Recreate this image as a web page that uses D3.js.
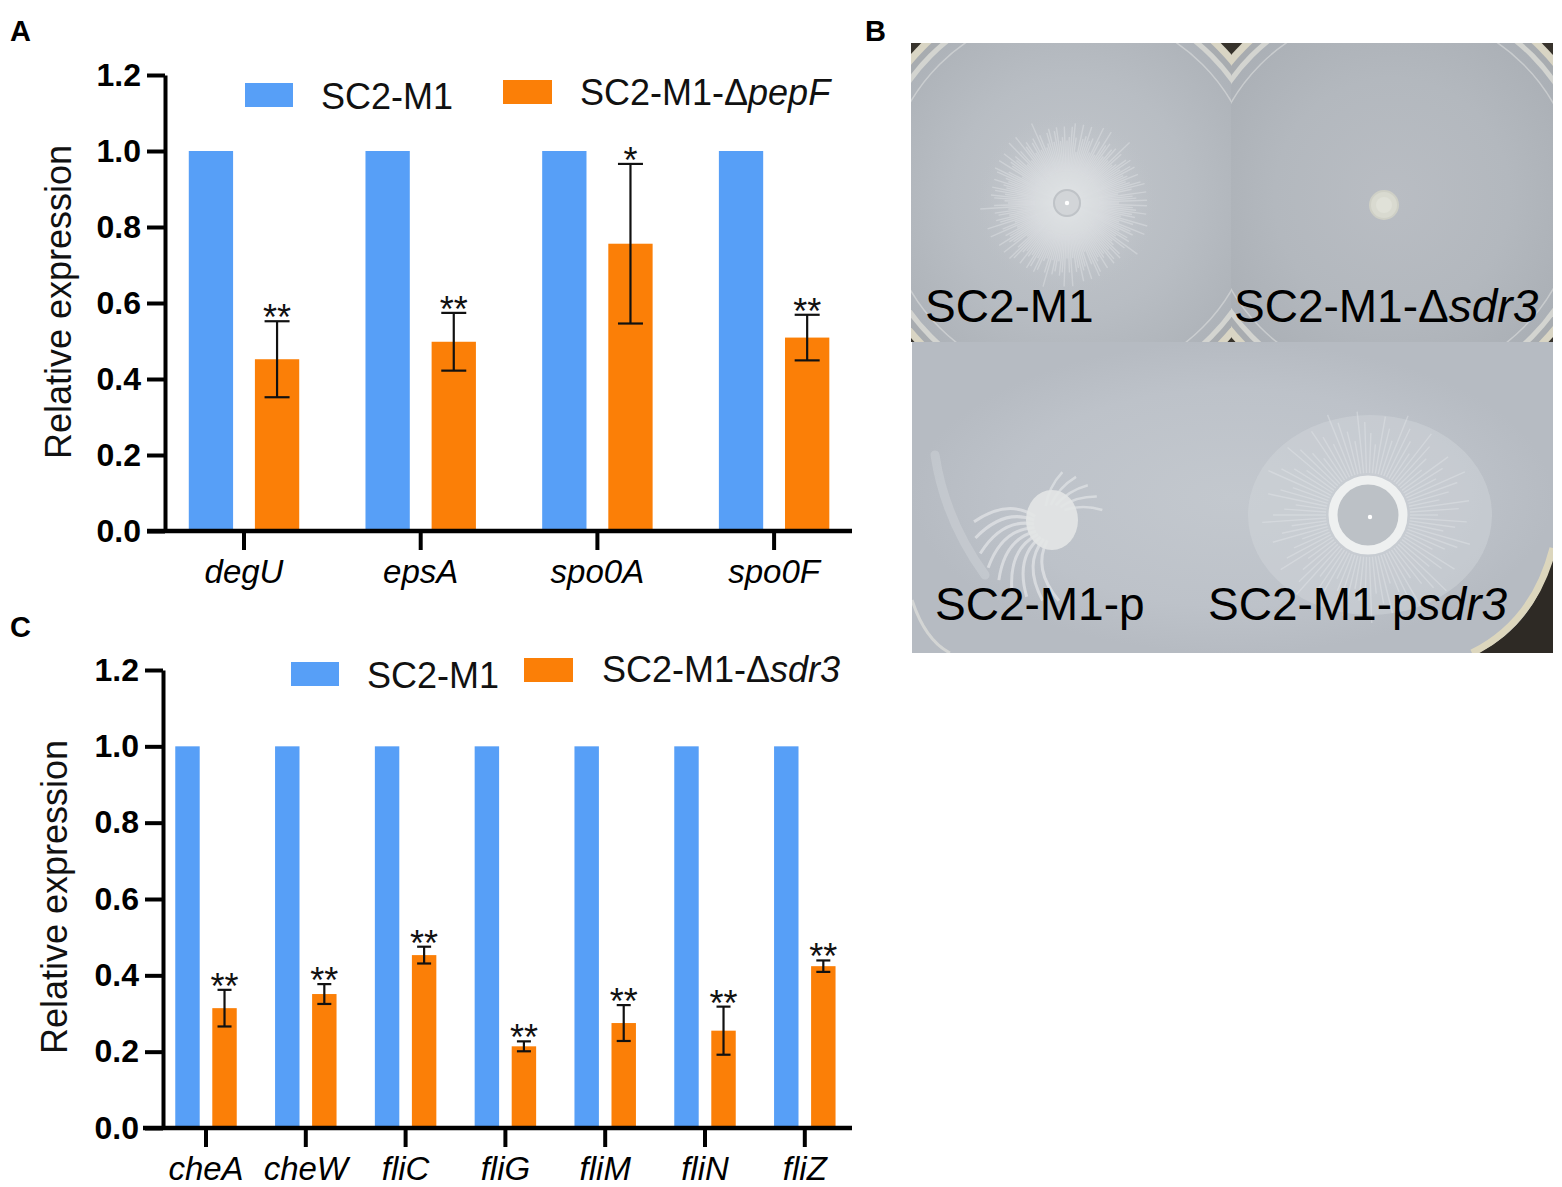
<!DOCTYPE html>
<html><head><meta charset="utf-8">
<script src="https://cdn.jsdelivr.net/npm/d3@7"></script>
<style>
body{margin:0;background:#fff}
svg{display:block}
text{font-family:"Liberation Sans",Arial,Helvetica,sans-serif}
</style>
</head><body>
<svg id="fig" width="1562" height="1187"></svg>
<script>
// ---------- DATA ----------
const genesA = ["degU", "epsA", "spo0A", "spo0F"];
const wtA = [1, 1, 1, 1];
const mutA = [0.452, 0.498, 0.756, 0.509];
const errA = [0.100, 0.076, 0.210, 0.060];
const sigA = ["**", "**", "*", "**"];

const genesC = ["cheA", "cheW", "fliC", "fliG", "fliM", "fliN", "fliZ"];
const wtC = [1, 1, 1, 1, 1, 1, 1];
const mutC = [0.314, 0.351, 0.453, 0.214, 0.275, 0.255, 0.424];
const errC = [0.048, 0.026, 0.022, 0.013, 0.047, 0.063, 0.015];
const sigC = ["**", "**", "**", "**", "**", "**", "**"];

const yTicks = [0, 0.2, 0.4, 0.6, 0.8, 1.0, 1.2];
const seriesKeys = ["wt", "mut"];

const BLUE = "#579FF7", ORANGE = "#FB7F07";
const svg = d3.select("#fig");
svg.append("rect").attr("width", 1562).attr("height", 1187).attr("fill", "#fff");
const defs = svg.append("defs");

// ---------- BAR PANEL ----------
function barPanel(o) {
  const g = svg.append("g");
  const y = d3.scaleLinear().domain([0, 1.2]).range([o.y0, o.y1]);
  const x = d3.scaleBand().domain(o.genes).range(o.xRange)
    .paddingInner(o.pad).paddingOuter(o.pad / 2);
  const xi = d3.scaleBand().domain(seriesKeys).range([0, x.bandwidth()]).paddingInner(o.innerPad);

  const rows = o.genes.map((gname, i) => ({gene: gname, wt: o.wt[i], mut: o.mut[i], err: o.err[i], sig: o.sig[i]}));

  g.selectAll(".bw").data(rows).join("rect")
    .attr("x", d => x(d.gene) + xi("wt")).attr("width", xi.bandwidth())
    .attr("y", d => y(d.wt)).attr("height", d => y(0) - y(d.wt)).attr("fill", BLUE);
  g.selectAll(".bm").data(rows).join("rect")
    .attr("x", d => x(d.gene) + xi("mut")).attr("width", xi.bandwidth())
    .attr("y", d => y(d.mut)).attr("height", d => y(0) - y(d.mut)).attr("fill", ORANGE);

  const cx = d => x(d.gene) + xi("mut") + xi.bandwidth() / 2;
  const eb = g.selectAll(".eb").data(rows).join("g").attr("stroke", "#111").attr("stroke-width", 2.2);
  eb.append("line").attr("x1", cx).attr("x2", cx).attr("y1", d => y(d.mut + d.err)).attr("y2", d => y(d.mut - d.err));
  eb.append("line").attr("x1", d => cx(d) - o.capW / 2).attr("x2", d => cx(d) + o.capW / 2)
    .attr("y1", d => y(d.mut + d.err)).attr("y2", d => y(d.mut + d.err));
  eb.append("line").attr("x1", d => cx(d) - o.capW / 2).attr("x2", d => cx(d) + o.capW / 2)
    .attr("y1", d => y(d.mut - d.err)).attr("y2", d => y(d.mut - d.err));

  g.selectAll(".sg").data(rows).join("text")
    .attr("x", cx).attr("y", d => y(d.mut + d.err) + 9)
    .attr("text-anchor", "middle").attr("font-size", 36).attr("fill", "#111")
    .text(d => d.sig);

  const ya = g.append("g").attr("transform", `translate(${o.axisX},0)`)
    .call(d3.axisLeft(y).tickValues(yTicks).tickSize(18).tickSizeOuter(0).tickPadding(6).tickFormat(d3.format(".1f")));
  ya.select(".domain").attr("stroke", "#000").attr("stroke-width", 4);
  ya.selectAll(".tick line").attr("stroke", "#000").attr("stroke-width", 4);
  ya.selectAll(".tick text").attr("font-size", 32).attr("font-weight", "bold").attr("fill", "#000")
    .attr("font-family", "'Liberation Sans',Arial,sans-serif");

  const xa = g.append("g").attr("transform", `translate(0,${o.y0})`)
    .call(d3.axisBottom(x).tickSize(19).tickSizeOuter(0));
  xa.select(".domain").attr("d", `M${o.xLine[0]},0H${o.xLine[1]}`).attr("stroke", "#000").attr("stroke-width", 4.5);
  xa.selectAll(".tick line").attr("stroke", "#000").attr("stroke-width", 4);
  xa.selectAll(".tick text").attr("dy", null).attr("y", 52).attr("font-size", 33)
    .attr("font-style", "italic").attr("fill", "#000").attr("font-family", "'Liberation Sans',Arial,sans-serif");

  g.append("text").attr("transform", `translate(${o.ylab[0]},${o.ylab[1]}) rotate(-90)`)
    .attr("text-anchor", "middle").attr("font-size", 36).attr("fill", "#111").text("Relative expression");

  const lg = g.append("g");
  lg.append("rect").attr("x", o.leg.b[0]).attr("y", o.leg.b[1]).attr("width", 48).attr("height", 24).attr("fill", BLUE);
  lg.append("text").attr("x", o.leg.bt[0]).attr("y", o.leg.bt[1]).attr("font-size", 36).attr("fill", "#111").text("SC2-M1");
  lg.append("rect").attr("x", o.leg.o[0]).attr("y", o.leg.o[1]).attr("width", 49).attr("height", 24).attr("fill", ORANGE);
  const t2 = lg.append("text").attr("x", o.leg.ot[0]).attr("y", o.leg.ot[1]).attr("font-size", 36).attr("fill", "#111");
  t2.append("tspan").text("SC2-M1-Δ");
  t2.append("tspan").attr("font-style", "italic").text(o.mutName);
}

barPanel({
  genes: genesA, wt: wtA, mut: mutA, err: errA, sig: sigA,
  y0: 531, y1: 75, xRange: [155.65, 862.45], pad: 0.375, innerPad: 0.33,
  axisX: 165, xLine: [147, 852], capW: 25, ylab: [71, 302],
  leg: {b: [245, 83], bt: [321, 109], o: [503, 80], ot: [580, 105]}, mutName: "pepF"
});
barPanel({
  genes: genesC, wt: wtC, mut: mutC, err: errC, sig: sigC,
  y0: 1128, y1: 670, xRange: [156.1, 854.7], pad: 0.384, innerPad: 0.34,
  axisX: 163, xLine: [143, 852], capW: 14, ylab: [67, 897],
  leg: {b: [291, 662], bt: [367, 688], o: [524, 658], ot: [602, 682]}, mutName: "sdr3"
});

[["A", 10, 41], ["B", 865, 41], ["C", 10, 637]].forEach(([t, x, yy]) =>
  svg.append("text").attr("x", x).attr("y", yy).attr("font-size", 29).attr("font-weight", "bold").attr("fill", "#000").text(t));

// ---------- PANEL B (photo-like illustration) ----------
function radGrad(id, stops) {
  const gr = defs.append("radialGradient").attr("id", id);
  stops.forEach(([o, c, op]) => gr.append("stop").attr("offset", o).attr("stop-color", c).attr("stop-opacity", op === undefined ? 1 : op));
}
radGrad("agar1", [["0%", "#c2c6cb"], ["60%", "#b8bdc3"], ["100%", "#aeb3b9"]]);
radGrad("agar2", [["0%", "#b9bdc3"], ["60%", "#b3b8be"], ["100%", "#abb0b6"]]);
radGrad("agar3", [["0%", "#c3c8ce"], ["70%", "#bdc2c9"], ["100%", "#b6bbc2"]]);
radGrad("halo", [["0%", "#e8eaec", 1], ["45%", "#d5d8dc", 0.8], ["100%", "#b9bec4", 0]]);

function clip(id, x, y, w, h) {
  defs.append("clipPath").attr("id", id).append("rect").attr("x", x).attr("y", y).attr("width", w).attr("height", h);
}
clip("cTL", 911, 43, 320, 299);
clip("cTR", 1231, 43, 322, 299);
clip("cBT", 912, 342, 641, 311);

function dish(id, x, y, w, h, cx, cy, grad) {
  const g = svg.append("g").attr("clip-path", `url(#${id})`);
  g.append("rect").attr("x", x).attr("y", y).attr("width", w).attr("height", h).attr("fill", "#37332c");
  g.append("circle").attr("cx", cx).attr("cy", cy).attr("r", 214).attr("fill", "#d9d5c4");
  g.append("circle").attr("cx", cx).attr("cy", cy).attr("r", 207).attr("fill", "#a8acb0");
  g.append("circle").attr("cx", cx).attr("cy", cy).attr("r", 201).attr("fill", "#d3d4d0");
  g.append("circle").attr("cx", cx).attr("cy", cy).attr("r", 196).attr("fill", `url(#${grad})`);
  g.append("circle").attr("cx", cx).attr("cy", cy).attr("r", 186).attr("fill", "none")
    .attr("stroke", "#dcdedd").attr("stroke-width", 1.5).attr("opacity", 0.6);
  return g;
}

// top-left dish: swarming colony
const tl = dish("cTL", 911, 43, 320, 299, 1071, 196, "agar1");
tl.append("circle").attr("cx", 1067).attr("cy", 203).attr("r", 95).attr("fill", "url(#halo)").attr("opacity", 0.6);
d3.range(0, 360, 2).forEach((a, i) => {
  const rad = a * Math.PI / 180, r0 = 14, r1 = 52 + ((i * 5) % 7 + (i * 3) % 5) * 3.5;
  tl.append("line")
    .attr("x1", 1067 + r0 * Math.cos(rad)).attr("y1", 203 + r0 * Math.sin(rad))
    .attr("x2", 1067 + r1 * Math.cos(rad)).attr("y2", 203 + r1 * Math.sin(rad))
    .attr("stroke", "#eceef0").attr("stroke-width", 1.4).attr("opacity", 0.35);
});
tl.append("circle").attr("cx", 1067).attr("cy", 203).attr("r", 32).attr("fill", "#d8dbde").attr("opacity", 0.5);
tl.append("circle").attr("cx", 1067).attr("cy", 203).attr("r", 13).attr("fill", "#d2d5d8").attr("stroke", "#bfc3c7").attr("stroke-width", 2);
tl.append("circle").attr("cx", 1067).attr("cy", 203).attr("r", 2.2).attr("fill", "#fff");

// top-right dish: small non-swarming colony
const tr = dish("cTR", 1231, 43, 322, 299, 1392, 196, "agar2");
tr.append("circle").attr("cx", 1384).attr("cy", 205).attr("r", 14).attr("fill", "#d9dad0").attr("stroke", "#cfd0c6").attr("stroke-width", 2);
tr.append("circle").attr("cx", 1384).attr("cy", 205).attr("r", 8).attr("fill", "#e0e1d8");

// bottom photo
const bt = svg.append("g").attr("clip-path", "url(#cBT)");
bt.append("rect").attr("x", 912).attr("y", 342).attr("width", 641).attr("height", 311).attr("fill", "url(#agar3)");
bt.append("path").attr("d", "M1553,555 Q1535,625 1478,653 L1553,653 Z").attr("fill", "#2e2a25");
bt.append("path").attr("d", "M1553,548 Q1534,622 1472,653").attr("fill", "none").attr("stroke", "#dcd6bd").attr("stroke-width", 7);
bt.append("path").attr("d", "M912,600 Q925,640 950,653").attr("fill", "none").attr("stroke", "#dfe0dc").attr("stroke-width", 3).attr("opacity", 0.7);
bt.append("path").attr("d", "M935,455 Q945,520 985,575").attr("fill", "none").attr("stroke", "#dfe2e5").attr("stroke-width", 9).attr("opacity", 0.3).attr("stroke-linecap", "round");
d3.range(9).forEach(i => {
  const a = (105 + i * 12) * Math.PI / 180, c = [1052, 523];
  const p = d3.path();
  p.moveTo(c[0] + 18 * Math.cos(a), c[1] + 18 * Math.sin(a));
  p.quadraticCurveTo(c[0] + 50 * Math.cos(a + 0.15), c[1] + 50 * Math.sin(a + 0.15),
                     c[0] + 78 * Math.cos(a - 0.35), c[1] + 78 * Math.sin(a - 0.35));
  bt.append("path").attr("d", p.toString()).attr("fill", "none").attr("stroke", "#e4e6e8").attr("stroke-width", 3).attr("opacity", 0.7);
});
d3.range(5).forEach(i => {
  const a = (-110 + i * 16) * Math.PI / 180, c = [1052, 523];
  const p = d3.path();
  p.moveTo(c[0] + 18 * Math.cos(a), c[1] + 18 * Math.sin(a));
  p.quadraticCurveTo(c[0] + 36 * Math.cos(a + 0.25), c[1] + 36 * Math.sin(a + 0.25),
                     c[0] + 52 * Math.cos(a + 0.55), c[1] + 52 * Math.sin(a + 0.55));
  bt.append("path").attr("d", p.toString()).attr("fill", "none").attr("stroke", "#e4e6e8").attr("stroke-width", 2.5).attr("opacity", 0.65);
});
bt.append("ellipse").attr("cx", 1052).attr("cy", 520).attr("rx", 26).attr("ry", 30).attr("fill", "#e3e5e6").attr("opacity", 0.9);
bt.append("ellipse").attr("cx", 1370).attr("cy", 515).attr("rx", 122).attr("ry", 100).attr("fill", "#d3d7dc").attr("opacity", 0.45);
d3.range(0, 360, 4).forEach((a, i) => {
  const rad = a * Math.PI / 180, r0 = 42, r1 = 70 + (i * 29) % 40;
  bt.append("line")
    .attr("x1", 1368 + r0 * Math.cos(rad)).attr("y1", 515 + r0 * Math.sin(rad))
    .attr("x2", 1368 + r1 * Math.cos(rad)).attr("y2", 515 + r1 * Math.sin(rad))
    .attr("stroke", "#e6e9ec").attr("stroke-width", 1.4).attr("opacity", 0.4);
});
bt.append("circle").attr("cx", 1368).attr("cy", 515).attr("r", 35).attr("fill", "#bcc1c6").attr("stroke", "#eef0f0").attr("stroke-width", 9);
bt.append("circle").attr("cx", 1370).attr("cy", 517).attr("r", 2.2).attr("fill", "#fff");

function plab(x, y, plain, ital) {
  const t = svg.append("text").attr("x", x).attr("y", y).attr("font-size", 46).attr("fill", "#000");
  t.append("tspan").text(plain);
  if (ital) t.append("tspan").attr("font-style", "italic").text(ital);
}
plab(925, 322, "SC2-M1");
plab(1234, 322, "SC2-M1-Δ", "sdr3");
plab(935, 620, "SC2-M1-p");
plab(1208, 620, "SC2-M1-p", "sdr3");
</script>
</body></html>
